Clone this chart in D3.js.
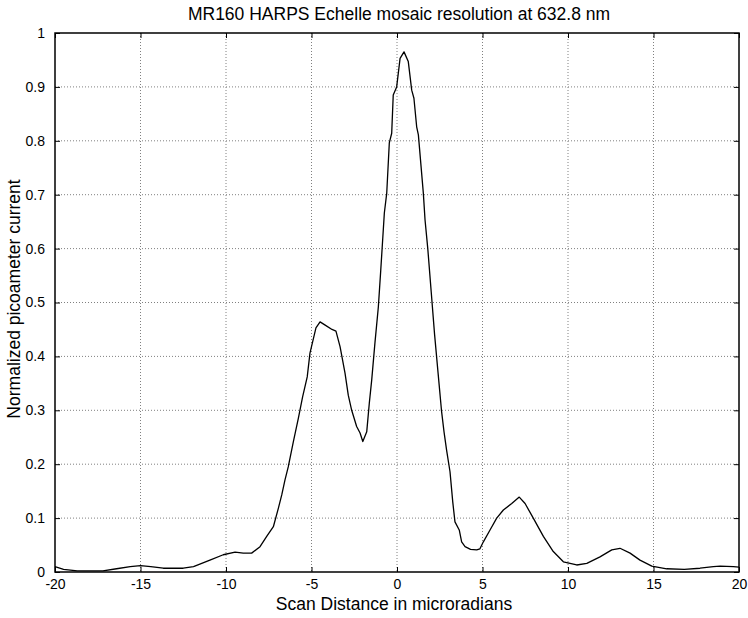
<!DOCTYPE html>
<html><head><meta charset="utf-8">
<script src="https://cdn.jsdelivr.net/npm/d3@7"></script>
<style>body{margin:0;background:#fff}svg{display:block;font-family:"Liberation Sans",Arial,sans-serif}</style>
</head><body><svg id="c" width="748" height="618"></svg>
<script>
const title = "MR160 HARPS Echelle mosaic resolution at 632.8 nm";
const xLabel = "Scan Distance in microradians";
const yLabel = "Normalized picoameter current";
const xTicks = [-20,-15,-10,-5,0,5,10,15,20];
const yTicks = [0,0.1,0.2,0.3,0.4,0.5,0.6,0.7,0.8,0.9,1];
const scanX = [-20,-19.5,-18.7,-17.2,-16.4,-15.6,-15.0,-14.4,-13.67,-12.5,-11.9,-10.94,-10.16,-9.47,-8.99,-8.5,-8.01,-7.62,-7.23,-6.94,-6.74,-6.55,-6.36,-6.06,-5.77,-5.52,-5.25,-5.09,-4.74,-4.5,-4.2,-3.8,-3.57,-3.33,-3.04,-2.85,-2.65,-2.36,-2.16,-2.0,-1.77,-1.62,-1.48,-1.29,-1.09,-0.95,-0.74,-0.6,-0.45,-0.31,-0.22,-0.02,0.18,0.41,0.66,0.86,0.99,1.15,1.25,1.54,1.64,1.8,2.0,2.2,2.4,2.6,2.75,2.9,3.1,3.26,3.39,3.64,3.78,3.98,4.3,4.66,4.85,5.05,5.44,5.83,6.22,6.71,7.15,7.49,7.97,8.56,9.14,9.73,10.51,11.1,11.87,12.56,13.04,13.63,14.21,14.9,15.77,16.8,17.72,18.5,18.9,19.67,20];
const current = [0.010,0.005,0.002,0.002,0.006,0.010,0.012,0.010,0.007,0.007,0.010,0.022,0.032,0.037,0.035,0.035,0.047,0.066,0.084,0.118,0.143,0.171,0.195,0.242,0.285,0.325,0.362,0.406,0.453,0.464,0.458,0.450,0.447,0.418,0.369,0.328,0.300,0.270,0.258,0.242,0.260,0.313,0.356,0.425,0.492,0.560,0.666,0.703,0.796,0.814,0.885,0.900,0.953,0.965,0.947,0.894,0.879,0.826,0.811,0.703,0.653,0.600,0.520,0.440,0.370,0.300,0.260,0.226,0.186,0.130,0.093,0.078,0.056,0.047,0.042,0.041,0.043,0.056,0.078,0.100,0.115,0.127,0.139,0.127,0.100,0.066,0.038,0.019,0.013,0.016,0.028,0.041,0.044,0.035,0.022,0.011,0.006,0.005,0.007,0.010,0.011,0.010,0.009];

const svg = d3.select("#c");
const L=55, R=739, T=33, B=572;
const x = d3.scaleLinear().domain([-20,20]).range([L,R]);
const y = d3.scaleLinear().domain([0,1]).range([B,T]);

// grid
const g = svg.append("g");
g.selectAll("line.vx").data(xTicks.slice(1,-1)).join("line")
  .attr("x1",d=>x(d)).attr("x2",d=>x(d)).attr("y1",T).attr("y2",B)
  .attr("stroke","#808080").attr("stroke-width",1).attr("stroke-dasharray","1,2");
g.selectAll("line.hy").data(yTicks.slice(1,-1)).join("line")
  .attr("y1",d=>y(d)).attr("y2",d=>y(d)).attr("x1",L).attr("x2",R)
  .attr("stroke","#808080").attr("stroke-width",1).attr("stroke-dasharray","1,2");

// axes
const fmt = d=>String(d);
const ax = svg.append("g").attr("transform",`translate(0,${B})`)
  .call(d3.axisBottom(x).tickValues(xTicks).tickFormat(fmt).tickSizeInner(-5).tickSizeOuter(0).tickPadding(7));
const axT = svg.append("g").attr("transform",`translate(0,${T})`)
  .call(d3.axisTop(x).tickValues(xTicks).tickFormat("").tickSizeInner(-5).tickSizeOuter(0));
const ay = svg.append("g").attr("transform",`translate(${L},0)`)
  .call(d3.axisLeft(y).tickValues(yTicks).tickFormat(fmt).tickSizeInner(-5).tickSizeOuter(0).tickPadding(10));
const ayR = svg.append("g").attr("transform",`translate(${R},0)`)
  .call(d3.axisRight(y).tickValues(yTicks).tickFormat("").tickSizeInner(-5).tickSizeOuter(0));
[ax,axT,ay,ayR].forEach(a=>{
  a.select(".domain").remove();
  a.selectAll("line").attr("stroke","#000");
  a.selectAll("text").attr("font-size",14).attr("fill","#000").attr("font-family","Liberation Sans, Arial, sans-serif");
});
ax.selectAll("text").attr("dy","0.71em");

svg.append("rect").attr("x",L).attr("y",T).attr("width",R-L).attr("height",B-T)
  .attr("fill","none").attr("stroke","#000").attr("stroke-width",1.5);

// line
const line = d3.line().x((d,i)=>x(scanX[i])).y(d=>y(d));
svg.append("path").datum(current).attr("d",line).attr("fill","none")
  .attr("stroke","#000").attr("stroke-width",1.3).attr("stroke-linejoin","round");

svg.append("text").attr("x",399).attr("y",20).attr("text-anchor","middle")
  .attr("font-size",17.5).text(title);
svg.append("text").attr("x",394).attr("y",610).attr("text-anchor","middle")
  .attr("font-size",17.5).text(xLabel);
svg.append("text").attr("transform",`translate(20,${299}) rotate(-90)`).attr("text-anchor","middle")
  .attr("font-size",17.5).text(yLabel);
</script></body></html>
